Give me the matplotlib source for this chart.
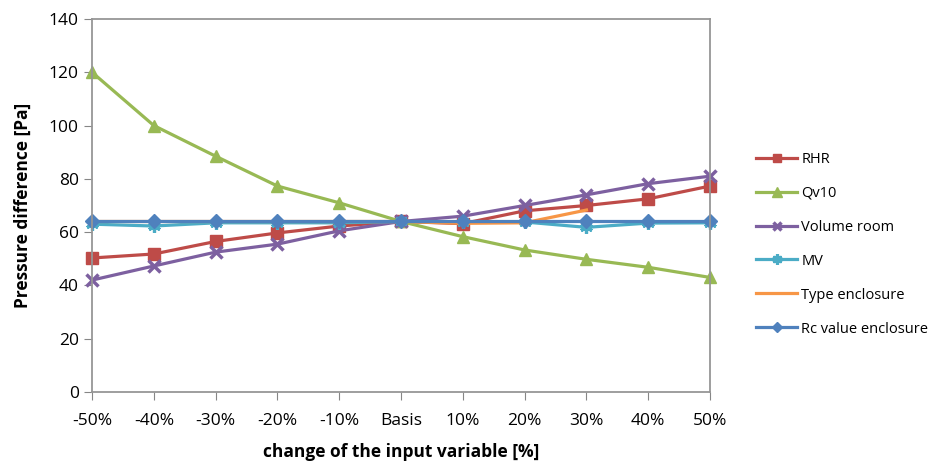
import numpy as np
import matplotlib
matplotlib.use('Agg')
import matplotlib.pyplot as plt

plt.rcParams['font.family'] = ['Open Sans', 'DejaVu Sans']

categories = ['-50%', '-40%', '-30%', '-20%', '-10%', 'Basis', '10%', '20%', '30%', '40%', '50%']

rhr = [50.3, 51.8, 56.5, 59.7, 62.3, 64.0, 63.2, 68.0, 70.0, 72.5, 77.3]
qv10 = [120.0, 100.0, 88.5, 77.3, 71.0, 64.0, 58.3, 53.3, 49.8, 46.8, 43.0]
volume_room = [42.0, 47.3, 52.5, 55.5, 60.5, 64.0, 66.0, 70.0, 74.0, 78.2, 81.0]
mv = [63.0, 62.3, 63.5, 63.5, 63.5, 64.0, 63.8, 63.8, 61.8, 63.4, 63.5]
type_enclosure = [64.0, 64.0, 64.0, 64.0, 64.0, 64.0, 63.3, 63.5, 68.3, np.nan, np.nan]
rc_value = [64.0, 64.0, 64.0, 64.0, 64.0, 64.0, 64.0, 64.0, 64.0, 64.0, 64.0]

fig = plt.figure(figsize=(9.43, 4.62), dpi=100)
ax = fig.add_axes([0.0976, 0.1515, 0.6554, 0.8074])

x = np.arange(len(categories))
lw = 2.3
ax.plot(x, rhr, color='#BE4B48', lw=lw, marker='s', ms=8, label='RHR', clip_on=False)
ax.plot(x, qv10, color='#98B954', lw=lw, marker='^', ms=9, label='Qv10', clip_on=False)
ax.plot(x, volume_room, color='#7D60A0', lw=lw, marker='x', ms=8, mew=2.5, label='Volume room', clip_on=False)
ax.plot(x, mv, color='#4BACC6', lw=lw, marker=(6, 2, 0), ms=9, mew=2.3, label='MV', clip_on=False)
ax.plot(x, type_enclosure, color='#F79646', lw=lw, label='Type enclosure', clip_on=False)
ax.plot(x, rc_value, color='#4F81BD', lw=lw, marker='D', ms=7, label='Rc value enclosure', clip_on=False)

ax.set_xlim(0, len(categories) - 1)
ax.set_ylim(0, 140)
ax.set_yticks(range(0, 141, 20))
ax.set_xticks(x)
ax.set_xticklabels(categories)
ax.tick_params(axis='both', labelsize=12.5, color='#868686', length=6, direction='out',
               colors='black')
ax.tick_params(axis='x', pad=9)
for s in ax.spines.values():
    s.set_color('#969696')
    s.set_linewidth(1.3)

ax.set_xlabel('change of the input variable [%]', fontsize=12.5, fontweight='bold', labelpad=10)
ax.set_ylabel('Pressure difference [Pa]', fontsize=12.5, fontweight='bold', labelpad=12)

fig.legend(loc='upper left', bbox_to_anchor=(0.788, 0.70), frameon=False,
           fontsize=10.5, handlelength=2.8, labelspacing=1.3, handletextpad=0.3,
           markerscale=0.8)

plt.savefig('out.png', dpi=100)
plt.close()
